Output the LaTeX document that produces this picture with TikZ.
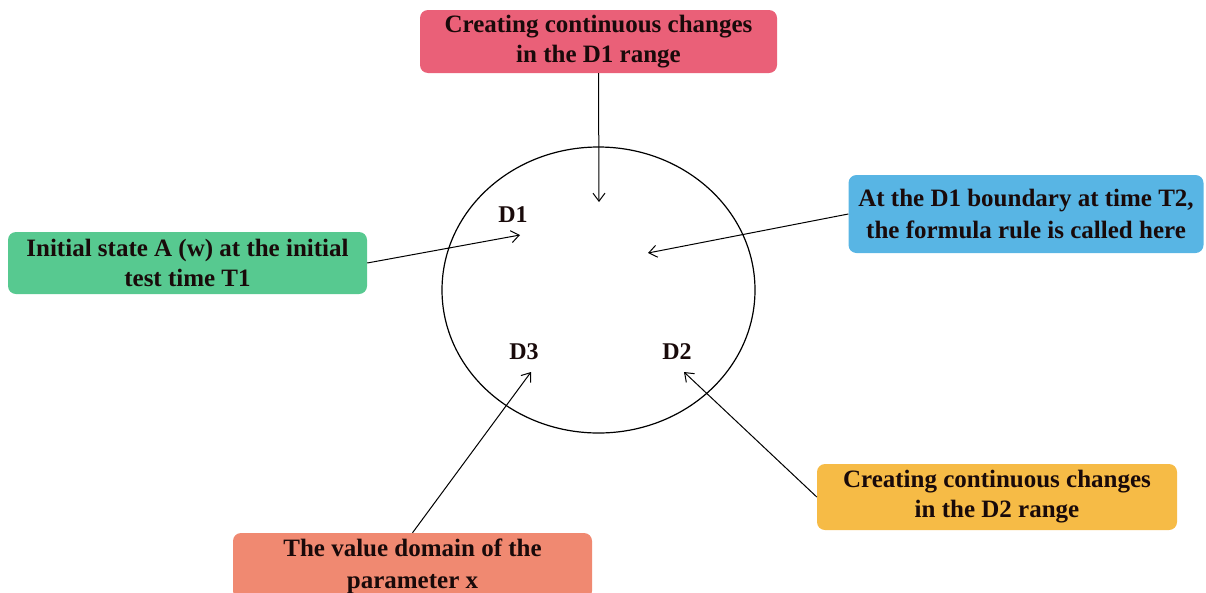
\documentclass[tikz,border=0pt]{standalone}
\usepackage{fontspec}
\setmainfont{Liberation Serif}
\usetikzlibrary{positioning,arrows.meta}
\definecolor{boxPink}{RGB}{234,96,120}
\definecolor{boxGreen}{RGB}{87,201,144}
\definecolor{boxBlue}{RGB}{88,181,228}
\definecolor{boxYellow}{RGB}{246,187,70}
\definecolor{boxSalmon}{RGB}{240,137,113}
\definecolor{txtDark}{RGB}{25,10,10}

\begin{document}
\begin{tikzpicture}[x=1pt, y=-1pt,
  infobox/.style={rounded corners=8pt, align=center, inner sep=0pt,
    font=\fontsize{25}{30}\selectfont\bfseries, text=txtDark},
  dlabel/.style={font=\fontsize{24}{28}\selectfont\bfseries, text=txtDark},
  pointer/.style={-{Straight Barb[length=8pt,width=12pt]}, line width=1pt}
]
  \useasboundingbox (0,0) rectangle (1206,592);

  % the domain with its three parts
  \draw[line width=1.2pt] (598.5,290) ellipse (156.5pt and 143pt);
  \node[dlabel] (d1) at (513,215) {D1};
  \node[dlabel] (d3) at (524,352) {D3};
  \node[dlabel] (d2) at (677,352) {D2};

  % where the arrows end
  \coordinate (tipTop) at (599,202);
  \coordinate (tipD1) at (520,235);
  \coordinate (tipMid) at (648,253);
  \coordinate (tipD3) at (531,372);
  \coordinate (tipD2) at (684,372);

  % boxes round the domain
  \node[infobox, fill=boxPink, minimum width=357pt, minimum height=63pt] (pinkbox) at (598.5,41.5)
    {Creating continuous changes\\in the D1 range};
  \node[infobox, fill=boxGreen, minimum width=359pt, minimum height=62pt] (greenbox) at (187.5,263)
    {Initial state A (w) at the initial\\test time T1};
  \node[infobox, fill=boxBlue, minimum width=355pt, minimum height=78pt,
    font=\fontsize{25}{32}\selectfont\bfseries] (bluebox) at (1026,214)
    {At the D1 boundary at time T2,\\the formula rule is called here};
  \node[infobox, fill=boxYellow, minimum width=360pt, minimum height=66pt] (yellowbox) at (997,497)
    {Creating continuous changes\\in the D2 range};
  \node[infobox, fill=boxSalmon, minimum width=359pt, minimum height=66pt,
    font=\fontsize{25}{32}\selectfont\bfseries] (salmonbox) at (412.5,566)
    {The value domain of the\\parameter x};

  % arrows into the domain
  \draw[pointer] (pinkbox.south) -- (tipTop);
  \draw[pointer] (greenbox.east) -- (tipD1);
  \draw[pointer] (bluebox.west) -- (tipMid);
  \draw[pointer] (yellowbox.west) -- (tipD2);
  \draw[pointer] (salmonbox.north) -- (tipD3);
\end{tikzpicture}
\end{document}
